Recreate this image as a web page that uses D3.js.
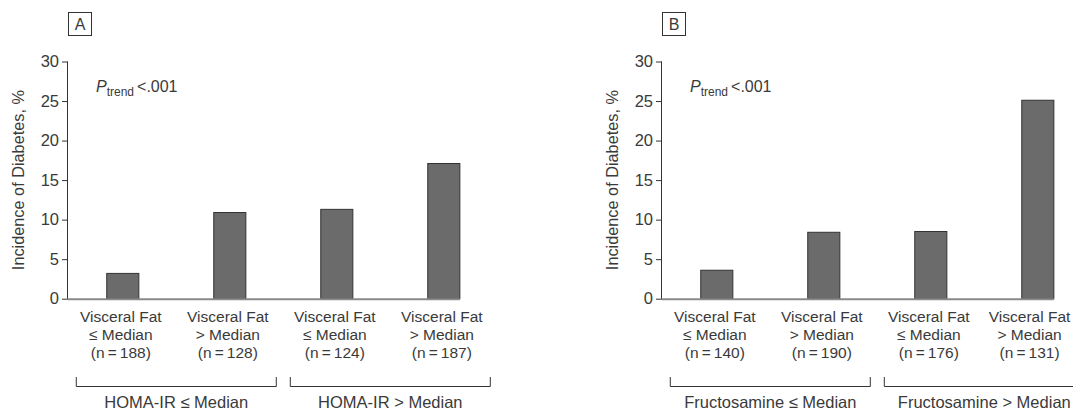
<!DOCTYPE html>
<html>
<head>
<meta charset="utf-8">
<script src="https://cdn.jsdelivr.net/npm/d3@7"></script>
<style>
  body { margin: 0; background: #fff; }
  svg text { font-family: "Liberation Sans", Arial, sans-serif; fill: #3a3a3a; }
</style>
</head>
<body>
<div id="chart"></div>
<script>
// data
var categoriesA = ["c1", "c2", "c3", "c4"];
var valuesA = [3.2, 10.9, 11.3, 17.1];
var nA = [188, 128, 124, 187];
var groupA = ["HOMA-IR \u2264 Median", "HOMA-IR > Median"];

var valuesB = [3.6, 8.4, 8.5, 25.1];
var nB = [140, 190, 176, 131];
var groupB = ["Fructosamine \u2264 Median", "Fructosamine > Median"];

var fatLabels = ["\u2264 Median", "> Median", "\u2264 Median", "> Median"];
var yTicks = [0, 5, 10, 15, 20, 25, 30];

var w = 1073, h = 411;
var svg = d3.select("#chart").append("svg")
  .attr("width", w)
  .attr("height", h);

var y = d3.scaleLinear().domain([0, 30]).range([298.7, 61.5]);

// nudge a text left if it runs off the right edge
function keepInside(sel) {
  var svgLeft = svg.node().getBoundingClientRect().left;
  sel.each(function(){
    var r = this.getBoundingClientRect();
    var over = (r.right - svgLeft) - (w - 2);
    if (over > 0) {
      var t = d3.select(this);
      var m = /translate\(([-\d.]+),([-\d.]+)\)/.exec(t.attr("transform") || "");
      if (m) t.attr("transform", "translate(" + (+m[1] - over) + "," + m[2] + ")");
      else t.attr("x", +t.attr("x") - over);
    }
  });
}

function panel(x0, letter, values, ns, groups) {
  var g = svg.append("g").attr("transform", "translate(" + x0 + ",0)");

  var x = d3.scaleBand()
    .domain(categoriesA)
    .range([0, 430.6])
    .paddingInner(0.70)
    .paddingOuter(0.362);

  // letter box
  g.append("rect")
    .attr("x", 0.5).attr("y", 12.5)
    .attr("width", 23).attr("height", 23)
    .attr("fill", "none").attr("stroke", "#333").attr("stroke-width", 1);
  g.append("text")
    .attr("x", 12).attr("y", 30)
    .attr("text-anchor", "middle")
    .style("font-size", "16px")
    .text(letter);

  // y axis
  var yAxis = d3.axisLeft(y).tickValues(yTicks).tickSize(6).tickPadding(3);
  var ya = g.append("g").call(yAxis);
  ya.select(".domain").attr("stroke", "#333").attr("d", "M-0.5," + y(30) + "V" + y(0));
  ya.selectAll(".tick line").attr("stroke", "#333");
  ya.selectAll(".tick text")
    .style("font-size", "16.5px")
    .style("font-family", "Liberation Sans, Arial, sans-serif")
    .attr("fill", "#3a3a3a");

  g.append("text")
    .attr("transform", "translate(" + (-50) + "," + ((y(0) + y(30)) / 2) + ") rotate(-90)")
    .attr("text-anchor", "middle")
    .attr("dy", "0.35em")
    .style("font-size", "16.3px")
    .text("Incidence of Diabetes, %");

  // P trend
  var pt = g.append("text").attr("x", 28).attr("y", 92).style("font-size", "16px");
  pt.append("tspan").style("font-style", "italic").text("P");
  pt.append("tspan").attr("dy", 4).style("font-size", "12px").text("trend");
  pt.append("tspan").attr("dy", -4).attr("dx", 3).text("<.001");

  // bars
  g.selectAll(".bar")
    .data(values)
    .enter()
    .append("rect")
      .attr("class", "bar")
      .attr("x", function(d, i){ return x(categoriesA[i]) })
      .attr("y", function(d){ return y(d) })
      .attr("width", x.bandwidth())
      .attr("height", function(d){ return y(0) - y(d) })
      .attr("fill", "#6b6b6b")
      .attr("stroke", "#333")
      .attr("stroke-width", 1);

  // x baseline
  var last = categoriesA[categoriesA.length - 1];
  g.append("line")
    .attr("x1", 0).attr("x2", x(last) + x.bandwidth())
    .attr("y1", y(0) + 0.5).attr("y2", y(0) + 0.5)
    .attr("stroke", "#8a8a8a").attr("stroke-width", 2);

  // category labels
  var lab = g.selectAll(".catlab")
    .data(values)
    .enter()
    .append("text")
      .attr("class", "catlab")
      .attr("text-anchor", "middle")
      .style("font-size", "15.5px")
      .attr("transform", function(d, i){
        return "translate(" + (x(categoriesA[i]) + x.bandwidth() / 2 - 2) + ",0)";
      });
  lab.append("tspan").attr("x", 0).attr("y", 321.5).text("Visceral Fat");
  lab.append("tspan").attr("x", 0).attr("y", 339.5).text(function(d, i){ return fatLabels[i] });
  lab.append("tspan").attr("x", 0).attr("y", 357.5).text(function(d, i){ return "(n\u2009=\u2009" + ns[i] + ")" });
  keepInside(lab);

  // group brackets
  for (var k = 0; k < 2; k++) {
    var c = (x(categoriesA[2 * k]) + x(categoriesA[2 * k + 1]) + x.bandwidth()) / 2;
    var x1 = c - 100, x2 = c + 100;
    g.append("path")
      .attr("d", "M" + x1 + ",377V386.5H" + x2 + "V377")
      .attr("fill", "none").attr("stroke", "#333").attr("stroke-width", 1);
    var gl = g.append("text")
      .attr("x", c).attr("y", 407.5)
      .attr("text-anchor", "middle")
      .style("font-size", "16.5px")
      .text(groups[k]);
    keepInside(gl);
  }
}

panel(68, "A", valuesA, nA, groupA);
panel(662, "B", valuesB, nB, groupB);
</script>
</body>
</html>
